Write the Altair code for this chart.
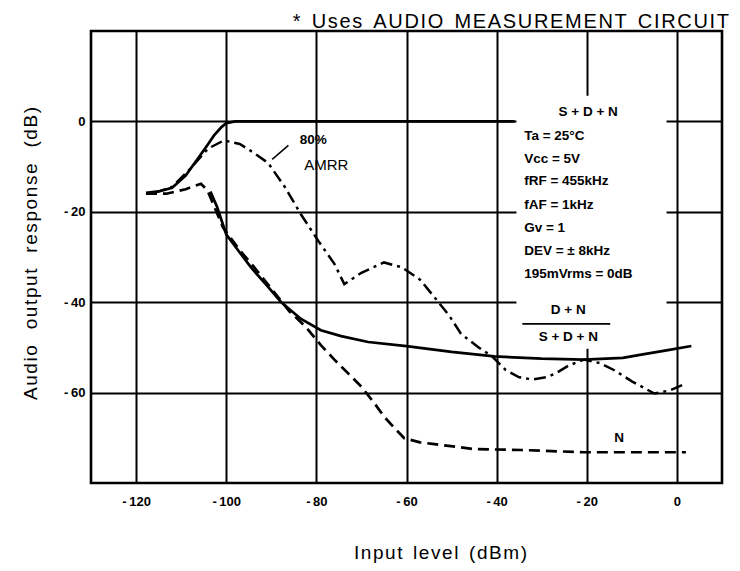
import altair as alt
import pandas as pd

# ---------------- data ----------------
x_ticks = [-120, -100, -80, -60, -40, -20, 0]
y_ticks = [0, -20, -40, -60]

# S+D+N (solid, top)
sdn_x = [-117.8, -115, -112, -109, -106.2, -104, -102.7, -101, -100, -98, -90, -70, -50, -36]
sdn_y = [-15.8, -15.5, -14.7, -12.0, -8.1, -5.0, -3.1, -1.2, -0.4, 0, 0, 0, 0, 0]

# (D+N)/(S+D+N) (solid, lower)
dn_x = [-103.5, -102, -100, -97, -94.5, -91, -87.8, -83.4, -79, -74.5, -68.5, -60, -50,
        -40.5, -30, -20.6, -12, -7.9, -2, 3.2]
dn_y = [-15.5, -19, -25, -29, -32.3, -36.3, -40, -43.7, -46.2, -47.5, -48.8, -49.7, -51,
        -52, -52.5, -52.7, -52.3, -51.6, -50.6, -49.7]

# N (dashed)
n_x = [-117.8, -113.3, -109, -105.6, -104.2, -103, -100.7, -97, -94, -90, -86, -82.3, -79,
       -76, -73, -70, -67, -65, -62.5, -60.5, -57, -53.8, -45, -34.5, -20.6, 2]
n_y = [-16, -16, -15, -13.8, -15.2, -18, -23.5, -28.5, -32, -37, -42, -45.5, -49.5,
       -52.7, -55.7, -58.7, -62.5, -65.3, -68, -70.1, -71, -71.4, -72.5, -72.7, -73.2, -73.2]

# 80% AMRR (dash-dot)
am_x = [-116, -112, -108, -104, -100.5, -97, -93.8, -90.7, -87, -83.4, -79.6, -76, -73.8,
        -70, -65, -61, -57, -53.8, -50.5, -47.9, -44, -41, -38, -35, -32, -29, -27, -24,
        -20.6, -17, -14, -10, -5, -1.5, 2]
am_y = [-15.8, -14.5, -10.5, -6, -4.2, -5, -7, -9.2, -14.5, -20.6, -26.4, -31.5, -36,
        -33.5, -31.2, -32.3, -35, -38.9, -43, -47, -50, -52, -55, -56.6, -57.1, -56.6,
        -55.8, -54, -52.7, -53.5, -55, -57.5, -60.2, -59.5, -58]

# condition box texts
cond_lines = ["Ta = 25°C", "Vcc = 5V", "fRF = 455kHz", "fAF = 1kHz", "Gv = 1",
              "DEV = ± 8kHz", "195mVrms = 0dB"]
cond_y = [-3.3, -8.4, -13.2, -18.5, -23.5, -28.6, -33.8]
cond_x = -33.9

box_x = [-35.6, -2.3]
box_y = [5.7, -50.3]

labels_txt = ["S + D + N", "D + N", "S + D + N", "N", "80%"]
labels_x = [-19.7, -24.1, -24.1, -12.8, -80.7]
labels_y = [2.0, -41.8, -47.7, -70.1, -4.2]

amrr_txt = ["AMRR"]
amrr_x = [-77.8]
amrr_y = [-9.7]

frac_x = [-34.3, -14.8]
frac_y = [-44.8, -44.8]

leader_x = [-86.2, -89.8]
leader_y = [-5.3, -8.4]

title_words = ["*", "Uses", "AUDIO", "MEASUREMENT", "CIRCUIT"]
x_title_words = ["Input", "level", "(dBm)"]
y_title_words = ["Audio", "output", "response", "(dB)"]


def tracked(words, gap=2):
    """join letters with hair spaces, words with non-breaking spaces"""
    hs = "\u200a"
    return ("\u00a0" * gap).join(hs.join(w) for w in words)


# ---------------- chart ----------------
FONT = "Liberation Sans"
xs = alt.Scale(domain=[-130, 10], nice=False, zero=False)
ys = alt.Scale(domain=[-80, 20], nice=False, zero=False)

lab_expr = "datum.value < 0 ? '-\u2009' + (-datum.value) : '' + datum.value"

xaxis = alt.Axis(values=x_ticks, grid=True, gridColor="black", gridWidth=2, gridOpacity=1,
                 ticks=False, domain=False, labelExpr=lab_expr, labelFont=FONT,
                 labelFontWeight="bold", labelFontSize=13, labelColor="black", labelPadding=12,
                 title=tracked(x_title_words, 2), titleFont=FONT, titleFontSize=19,
                 titleFontWeight="normal", titleColor="black", titleX=349, titleY=69,
                 titleBaseline="middle", titleAlign="center")
yaxis = alt.Axis(values=y_ticks, grid=True, gridColor="black", gridWidth=2, gridOpacity=1,
                 ticks=False, domain=False, labelExpr=lab_expr, labelFont=FONT,
                 labelFontWeight="bold", labelFontSize=13, labelColor="black", labelPadding=6,
                 title=tracked(y_title_words, 3), titleFont=FONT, titleFontSize=19,
                 titleFontWeight="normal", titleColor="black", titleX=-61, titleY=222,
                 titleBaseline="middle", titleAlign="center", titleAngle=-90)


def line_df(xv, yv):
    return pd.DataFrame({"x": xv, "y": yv})


base_grid = alt.Chart(line_df([0], [0])).mark_point(opacity=0).encode(
    x=alt.X("x:Q", scale=xs, axis=xaxis),
    y=alt.Y("y:Q", scale=ys, axis=yaxis),
)

box = alt.Chart(pd.DataFrame({"x": [box_x[0]], "x2": [box_x[1]],
                              "y": [box_y[0]], "y2": [box_y[1]]})).mark_rect(
    color="white").encode(x=alt.X("x:Q", scale=xs), x2="x2:Q",
                          y=alt.Y("y:Q", scale=ys), y2="y2:Q")


def curve(xv, yv, dash=None, width=2.7):
    kw = dict(color="black", strokeWidth=width, clip=True)
    if dash:
        kw["strokeDash"] = dash
    return alt.Chart(line_df(xv, yv).reset_index()).mark_line(**kw).encode(
        x=alt.X("x:Q", scale=xs), y=alt.Y("y:Q", scale=ys), order="index:Q")


sdn = curve(sdn_x, sdn_y)
dn = curve(dn_x, dn_y)
nn = curve(n_x, n_y, dash=[11, 6])
am = curve(am_x, am_y, dash=[12, 5, 3, 5], width=2.5)
frac = curve(frac_x, frac_y, width=1.8)
leader = curve(leader_x, leader_y, width=1.5)

cond = alt.Chart(pd.DataFrame({"t": cond_lines, "x": [cond_x] * len(cond_lines),
                               "y": cond_y})).mark_text(
    align="left", baseline="middle", font=FONT, fontWeight="bold", fontSize=13.5,
    color="black").encode(x=alt.X("x:Q", scale=xs), y=alt.Y("y:Q", scale=ys), text="t:N")

labs = alt.Chart(pd.DataFrame({"t": labels_txt, "x": labels_x, "y": labels_y})).mark_text(
    align="center", baseline="middle", font=FONT, fontWeight="bold", fontSize=13.5,
    color="black").encode(x=alt.X("x:Q", scale=xs), y=alt.Y("y:Q", scale=ys), text="t:N")

amrr = alt.Chart(pd.DataFrame({"t": amrr_txt, "x": amrr_x, "y": amrr_y})).mark_text(
    align="center", baseline="middle", font=FONT, fontSize=15, color="black").encode(
    x=alt.X("x:Q", scale=xs), y=alt.Y("y:Q", scale=ys), text="t:N")

title = alt.Chart(pd.DataFrame({"t": [tracked(title_words, 2)]})).mark_text(
    align="right", baseline="middle", font=FONT, fontSize=20, color="black").encode(
    x=alt.value(638), y=alt.value(-9), text="t:N")

chart = alt.layer(base_grid, box, sdn, dn, nn, am, frac, leader, cond, labs, amrr,
                  title).properties(
    width=631, height=452,
    padding={"left": 83, "top": 23, "right": 10, "bottom": 80},
    autosize=alt.AutoSizeParams(type="none"),
    background="white",
).configure_view(stroke="black", strokeWidth=2.6)

chart.save("out.html", embed_options={"renderer": "svg", "actions": False})
